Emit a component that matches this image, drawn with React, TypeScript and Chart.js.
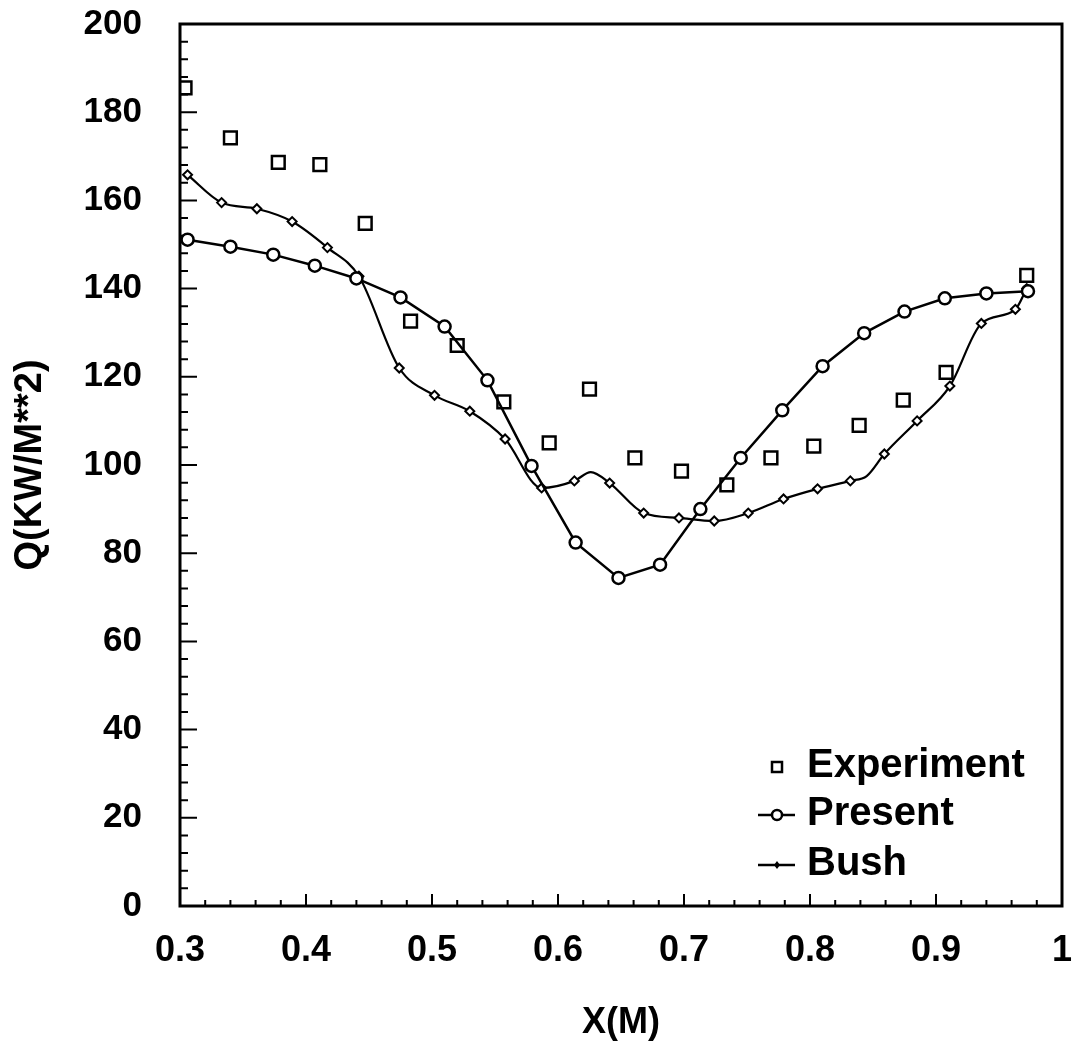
import React, { useEffect, useRef } from "react";
import { Chart, registerables } from "chart.js";

Chart.register(...registerables);

// ---- Data ----
const expX = [0.304, 0.340, 0.378, 0.411, 0.447, 0.483, 0.520, 0.557, 0.593, 0.625, 0.661, 0.698, 0.734, 0.769, 0.803, 0.839, 0.874, 0.908, 0.972];
const expY = [185.5, 174.2, 168.6, 168.1, 154.8, 132.6, 127.1, 114.3, 105.0, 117.2, 101.6, 98.6, 95.5, 101.6, 104.3, 109.0, 114.7, 121.0, 143.0];

const presentX = [0.306, 0.340, 0.374, 0.407, 0.440, 0.475, 0.510, 0.544, 0.579, 0.614, 0.648, 0.681, 0.713, 0.745, 0.778, 0.810, 0.843, 0.875, 0.907, 0.940, 0.973];
const presentY = [151.1, 149.5, 147.7, 145.2, 142.3, 138.0, 131.4, 119.2, 99.8, 82.4, 74.4, 77.4, 90.0, 101.6, 112.4, 122.4, 129.9, 134.8, 137.8, 138.9, 139.4];

const bushX = [0.306, 0.333, 0.361, 0.389, 0.417, 0.442, 0.474, 0.502, 0.530, 0.558, 0.587, 0.613, 0.626, 0.641, 0.668, 0.696, 0.724, 0.751, 0.779, 0.806, 0.832, 0.845, 0.859, 0.885, 0.911, 0.936, 0.963, 0.972];
const bushY = [165.8, 159.5, 158.1, 155.2, 149.3, 142.8, 122.0, 115.8, 112.2, 105.9, 94.8, 96.4, 98.4, 95.9, 89.1, 88.0, 87.3, 89.1, 92.3, 94.6, 96.4, 97.5, 102.5, 110.0, 117.9, 132.1, 135.3, 140.0];
// whether a diamond marker is drawn at the point (curve-only points have none)
const bushMarked = [1, 1, 1, 1, 1, 1, 1, 1, 1, 1, 1, 1, 0, 1, 1, 1, 1, 1, 1, 1, 1, 0, 1, 1, 1, 1, 1, 1];

const seriesLabels = ["Experiment", "Present", "Bush"];
const xTitle = "X(M)";
const yTitle = "Q(KW/M**2)";
const xRange = [0.3, 1.0];
const yRange = [0, 200];

const FONT = '"Liberation Sans", Arial, Helvetica, sans-serif';

const pts = (xs: number[], ys: number[]) => xs.map((x, i) => ({ x, y: ys[i] }));

const frameTicksPlugin = {
  id: "frameTicks",
  beforeDatasetsDraw(chart: any) {
    const { ctx, chartArea: a, scales } = chart;
    const xs = scales.x;
    const ys = scales.y;
    ctx.save();
    ctx.strokeStyle = "#000";
    ctx.lineWidth = 3;
    ctx.strokeRect(a.left, a.top, a.right - a.left, a.bottom - a.top);
    ctx.lineWidth = 2;
    ctx.beginPath();
    // y ticks (inward, on left axis): major every 20, minor every 4
    for (let i = 0; i <= 50; i++) {
      const v = i * 4;
      const y = ys.getPixelForValue(v);
      const len = i % 5 === 0 ? 17 : 8;
      ctx.moveTo(a.left, y);
      ctx.lineTo(a.left + len, y);
    }
    // x ticks (inward, on bottom axis): major every 0.1, minor every 0.02
    for (let i = 0; i <= 35; i++) {
      const v = 0.3 + i * 0.02;
      const x = xs.getPixelForValue(v);
      const len = i % 5 === 0 ? 12 : 6;
      ctx.moveTo(x, a.bottom);
      ctx.lineTo(x, a.bottom - len);
    }
    ctx.stroke();
    ctx.restore();
  },
};

const legendPlugin = {
  id: "customLegend",
  afterDraw(chart: any) {
    const { ctx, chartArea: a } = chart;
    const sx = a.right - 285;
    const tx = a.right - 255;
    const baselines = [a.bottom - 129, a.bottom - 81, a.bottom - 31];
    ctx.save();
    ctx.fillStyle = "#000";
    ctx.strokeStyle = "#000";
    ctx.font = `bold 40px ${FONT}`;
    ctx.textBaseline = "alphabetic";
    ctx.textAlign = "left";
    chart.data.datasets.forEach((ds: any, i: number) => {
      const by = baselines[i];
      const cy = by - 10;
      if (i === 0) {
        ctx.lineWidth = 2.5;
        ctx.strokeRect(sx - 5, cy - 5, 10, 10);
      } else {
        ctx.lineWidth = 2.5;
        ctx.beginPath();
        ctx.moveTo(sx - 19, cy);
        ctx.lineTo(sx + 18, cy);
        ctx.stroke();
        if (i === 1) {
          ctx.beginPath();
          ctx.arc(sx, cy, 5, 0, Math.PI * 2);
          ctx.fillStyle = "#fff";
          ctx.fill();
          ctx.stroke();
          ctx.fillStyle = "#000";
        } else {
          ctx.beginPath();
          ctx.moveTo(sx, cy - 4);
          ctx.lineTo(sx + 3, cy);
          ctx.lineTo(sx, cy + 4);
          ctx.lineTo(sx - 3, cy);
          ctx.closePath();
          ctx.fill();
        }
      }
      ctx.fillText(ds.label, tx, by);
    });
    ctx.restore();
  },
};

export default function App() {
  const ref = useRef<HTMLCanvasElement>(null);

  useEffect(() => {
    if (!ref.current) return;
    const chart = new Chart(ref.current, {
      type: "scatter",
      data: {
        datasets: [
          {
            label: seriesLabels[0],
            data: pts(expX, expY),
            showLine: false,
            pointStyle: "rect",
            pointRadius: 9,
            pointBorderWidth: 2.5,
            pointBorderColor: "#000",
            pointBackgroundColor: "rgba(255,255,255,0)",
            borderColor: "#000",
          },
          {
            label: seriesLabels[1],
            data: pts(presentX, presentY),
            showLine: true,
            tension: 0,
            borderColor: "#000",
            borderWidth: 2.5,
            pointStyle: "circle",
            pointRadius: 6,
            pointBorderWidth: 2.5,
            pointBorderColor: "#000",
            pointBackgroundColor: "#fff",
          },
          {
            label: seriesLabels[2],
            data: pts(bushX, bushY),
            showLine: true,
            cubicInterpolationMode: "monotone",
            borderColor: "#000",
            borderWidth: 2.2,
            pointStyle: "rectRot",
            pointRadius: bushMarked.map((m) => (m ? 4.5 : 0)),
            pointBorderWidth: 2,
            pointBorderColor: "#000",
            pointBackgroundColor: "#fff",
          },
        ],
      },
      options: {
        animation: false,
        responsive: false,
        devicePixelRatio: 1,
        events: [],
        layout: { padding: { top: 24, right: 13, left: 0, bottom: 0 } },
        plugins: {
          legend: { display: false },
          tooltip: { enabled: false },
        },
        scales: {
          x: {
            type: "linear",
            min: xRange[0],
            max: xRange[1],
            afterFit: (s: any) => {
              s.height = 143;
              s.paddingLeft = 0;
              s.paddingRight = 0;
            },
            ticks: {
              stepSize: 0.1,
              padding: 23,
              color: "#000",
              font: { family: FONT, size: 36, weight: "bold" },
              callback: (v: any) => String(Number(Number(v).toFixed(1))),
            },
            grid: { display: false, drawTicks: false },
            border: { display: false },
            title: {
              display: true,
              text: xTitle,
              color: "#000",
              font: { family: FONT, size: 36, weight: "bold" },
              padding: { top: 0, bottom: 4 },
            },
          },
          y: {
            type: "linear",
            min: yRange[0],
            max: yRange[1],
            afterFit: (s: any) => {
              s.width = 180;
              s.paddingTop = 0;
              s.paddingBottom = 0;
            },
            ticks: {
              stepSize: 20,
              padding: 38,
              color: "#000",
              font: { family: FONT, size: 35, weight: "bold" },
            },
            grid: { display: false, drawTicks: false },
            border: { display: false },
            title: {
              display: true,
              text: yTitle,
              color: "#000",
              font: { family: FONT, size: 38, weight: "bold" },
              padding: { top: 8, bottom: 0 },
            },
          },
        },
      },
      plugins: [frameTicksPlugin, legendPlugin],
    } as any);
    return () => chart.destroy();
  }, []);

  return (
    <div style={{ position: "absolute", left: 0, top: 0, width: 1075, height: 1049, background: "#fff" }}>
      <canvas ref={ref} width={1075} height={1049} style={{ display: "block" }} />
    </div>
  );
}
